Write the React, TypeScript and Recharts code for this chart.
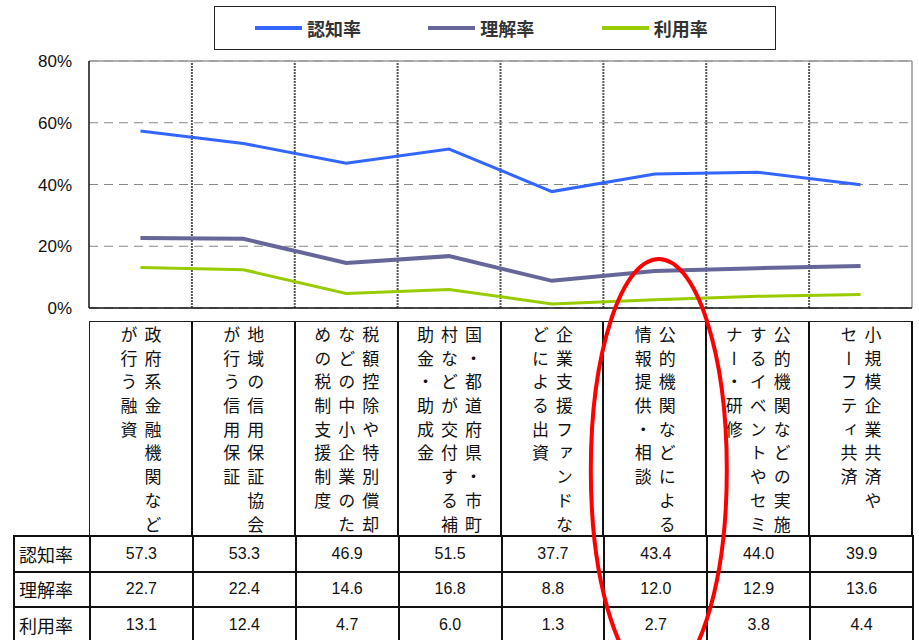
import React from 'react';
import {
  LineChart,
  Line,
  XAxis,
  YAxis,
  CartesianGrid,
  ReferenceLine,
  Legend,
} from 'recharts';

// 支援策ごとの認知・理解・利用の割合（%）
const categories = [
  '政府系金融機関など\nが行う融資',
  '地域の信用保証協会\nが行う信用保証',
  '税額控除や特別償却\nなどの中小企業のた\nめの税制支援制度',
  '国・都道府県・市町\n村などが交付する補\n助金・助成金',
  '企業支援ファンドな\nどによる出資',
  '公的機関などによる\n情報提供・相談',
  '公的機関などの実施\nするイベントやセミ\nナー・研修',
  '小規模企業共済や\nセーフティ共済',
];
const ninchi = [57.3, 53.3, 46.9, 51.5, 37.7, 43.4, 44.0, 39.9];
const rikai = [22.7, 22.4, 14.6, 16.8, 8.8, 12.0, 12.9, 13.6];
const riyou = [13.1, 12.4, 4.7, 6.0, 1.3, 2.7, 3.8, 4.4];
const yTicks = [0, 20, 40, 60, 80];

const series = [
  { key: '認知率', values: ninchi, color: '#3366ff', width: 3 },
  { key: '理解率', values: rikai, color: '#666699', width: 4 },
  { key: '利用率', values: riyou, color: '#99cc00', width: 3 },
];

const data = categories.map((_, i) => ({
  pos: i + 0.5,
  認知率: ninchi[i],
  理解率: rikai[i],
  利用率: riyou[i],
}));

const W = 919;
const PLOT_LEFT = 89;
const PLOT_RIGHT = 912;
const COL_W = (PLOT_RIGHT - PLOT_LEFT) / categories.length;
const HIGHLIGHT = 5;

const jp = '"Noto Sans CJK JP", sans-serif';
const num = '"Liberation Sans", Arial, sans-serif';

const LegendBox = () => (
  <div
    style={{
      width: 562,
      height: 44,
      boxSizing: 'border-box',
      border: '1.5px solid #222',
      display: 'flex',
      alignItems: 'center',
      paddingLeft: 40,
      background: '#fff',
    }}
  >
    {series.map((s) => (
      <div key={s.key} style={{ width: 189, display: 'flex', alignItems: 'center' }}>
        <span style={{ width: 47, height: 4, background: s.color, marginRight: 5 }} />
        <span style={{ fontFamily: jp, fontSize: 18, fontWeight: 'bold', color: '#333' }}>
          {s.key}
        </span>
      </div>
    ))}
  </div>
);

const cell: React.CSSProperties = {
  border: '2px solid #111',
  padding: 0,
  textAlign: 'center',
  fontFamily: num,
  fontSize: 16,
  color: '#111',
};

export default function App() {
  return (
    <div
      style={{
        position: 'absolute',
        left: 0,
        top: 0,
        width: W,
        height: 640,
        overflow: 'hidden',
        background: '#fff',
      }}
    >
      <LineChart
        width={W}
        height={320}
        data={data}
        margin={{ top: 61, right: W - PLOT_RIGHT, bottom: 0, left: 0 }}
      >
        <CartesianGrid
          vertical={false}
          stroke="#888"
          strokeDasharray="9 6"
          strokeWidth={1.2}
        />
        <XAxis
          type="number"
          dataKey="pos"
          domain={[0, categories.length]}
          ticks={[]}
          tick={false}
          height={12}
          axisLine={{ stroke: '#111', strokeWidth: 1.5 }}
        />
        <YAxis
          domain={[0, 80]}
          ticks={yTicks}
          width={PLOT_LEFT}
          tickSize={0}
          tickMargin={17}
          tickFormatter={(v) => `${v}%`}
          tick={{ fontFamily: num, fontSize: 17, fill: '#111' }}
          axisLine={{ stroke: '#111', strokeWidth: 1.5 }}
        />
        {categories.slice(1).map((_, i) => (
          <ReferenceLine
            key={i}
            x={i + 1}
            stroke="#555"
            strokeWidth={2}
            strokeDasharray="2 1"
          />
        ))}
        <ReferenceLine y={80} stroke="#999" strokeWidth={1.5} />
        <ReferenceLine x={categories.length} stroke="#999" strokeWidth={1.5} />
        <Legend
          layout="vertical"
          align="center"
          verticalAlign="middle"
          wrapperStyle={{ top: 6, left: 214, width: 562 }}
          content={() => <LegendBox />}
        />
        {series.map((s) => (
          <Line
            key={s.key}
            type="linear"
            dataKey={s.key}
            stroke={s.color}
            strokeWidth={s.width}
            dot={false}
            isAnimationActive={false}
          />
        ))}
      </LineChart>

      {/* 縦書きの項目名 */}
      <div
        style={{
          position: 'absolute',
          left: PLOT_LEFT,
          top: 321,
          width: PLOT_RIGHT - PLOT_LEFT + 1,
          height: 215,
          display: 'flex',
          boxSizing: 'border-box',
          borderTop: '1.5px solid #222',
          borderLeft: '1.5px solid #222',
        }}
      >
        {categories.map((c, i) => (
          <div
            key={i}
            style={{
              width: COL_W,
              flexShrink: 0,
              boxSizing: 'border-box',
              borderRight: '2px solid #111',
              display: 'flex',
              justifyContent: 'center',
              paddingTop: 4,
            }}
          >
            <div
              style={{
                writingMode: 'vertical-rl',
                whiteSpace: 'pre',
                fontFamily: jp,
                fontSize: 17,
                lineHeight: '24px',
                letterSpacing: '6.7px',
                color: '#111',
              }}
            >
              {c}
            </div>
          </div>
        ))}
      </div>

      {/* 数値表 */}
      <table
        style={{
          position: 'absolute',
          left: 13,
          top: 535,
          borderCollapse: 'collapse',
          tableLayout: 'fixed',
          width: PLOT_RIGHT + 1 - 13,
        }}
      >
        <colgroup>
          <col style={{ width: PLOT_LEFT - 13 }} />
          {categories.map((_, i) => (
            <col key={i} style={{ width: COL_W }} />
          ))}
        </colgroup>
        <tbody>
          {series.map((s) => (
            <tr key={s.key} style={{ height: 35.5 }}>
              <td style={{ ...cell, textAlign: 'left', paddingLeft: 4, fontFamily: jp, fontSize: 18 }}>
                {s.key}
              </td>
              {s.values.map((v, i) => (
                <td key={i} style={cell}>
                  {v.toFixed(1)}
                </td>
              ))}
            </tr>
          ))}
        </tbody>
      </table>

      <svg
        width={W}
        height={640}
        style={{ position: 'absolute', left: 0, top: 0, pointerEvents: 'none' }}
      >
        <ellipse
          cx={PLOT_LEFT + COL_W * (HIGHLIGHT + 0.5) + 4}
          cy={470}
          rx={68}
          ry={211}
          fill="none"
          stroke="#ff0000"
          strokeWidth={4}
        />
      </svg>
    </div>
  );
}
